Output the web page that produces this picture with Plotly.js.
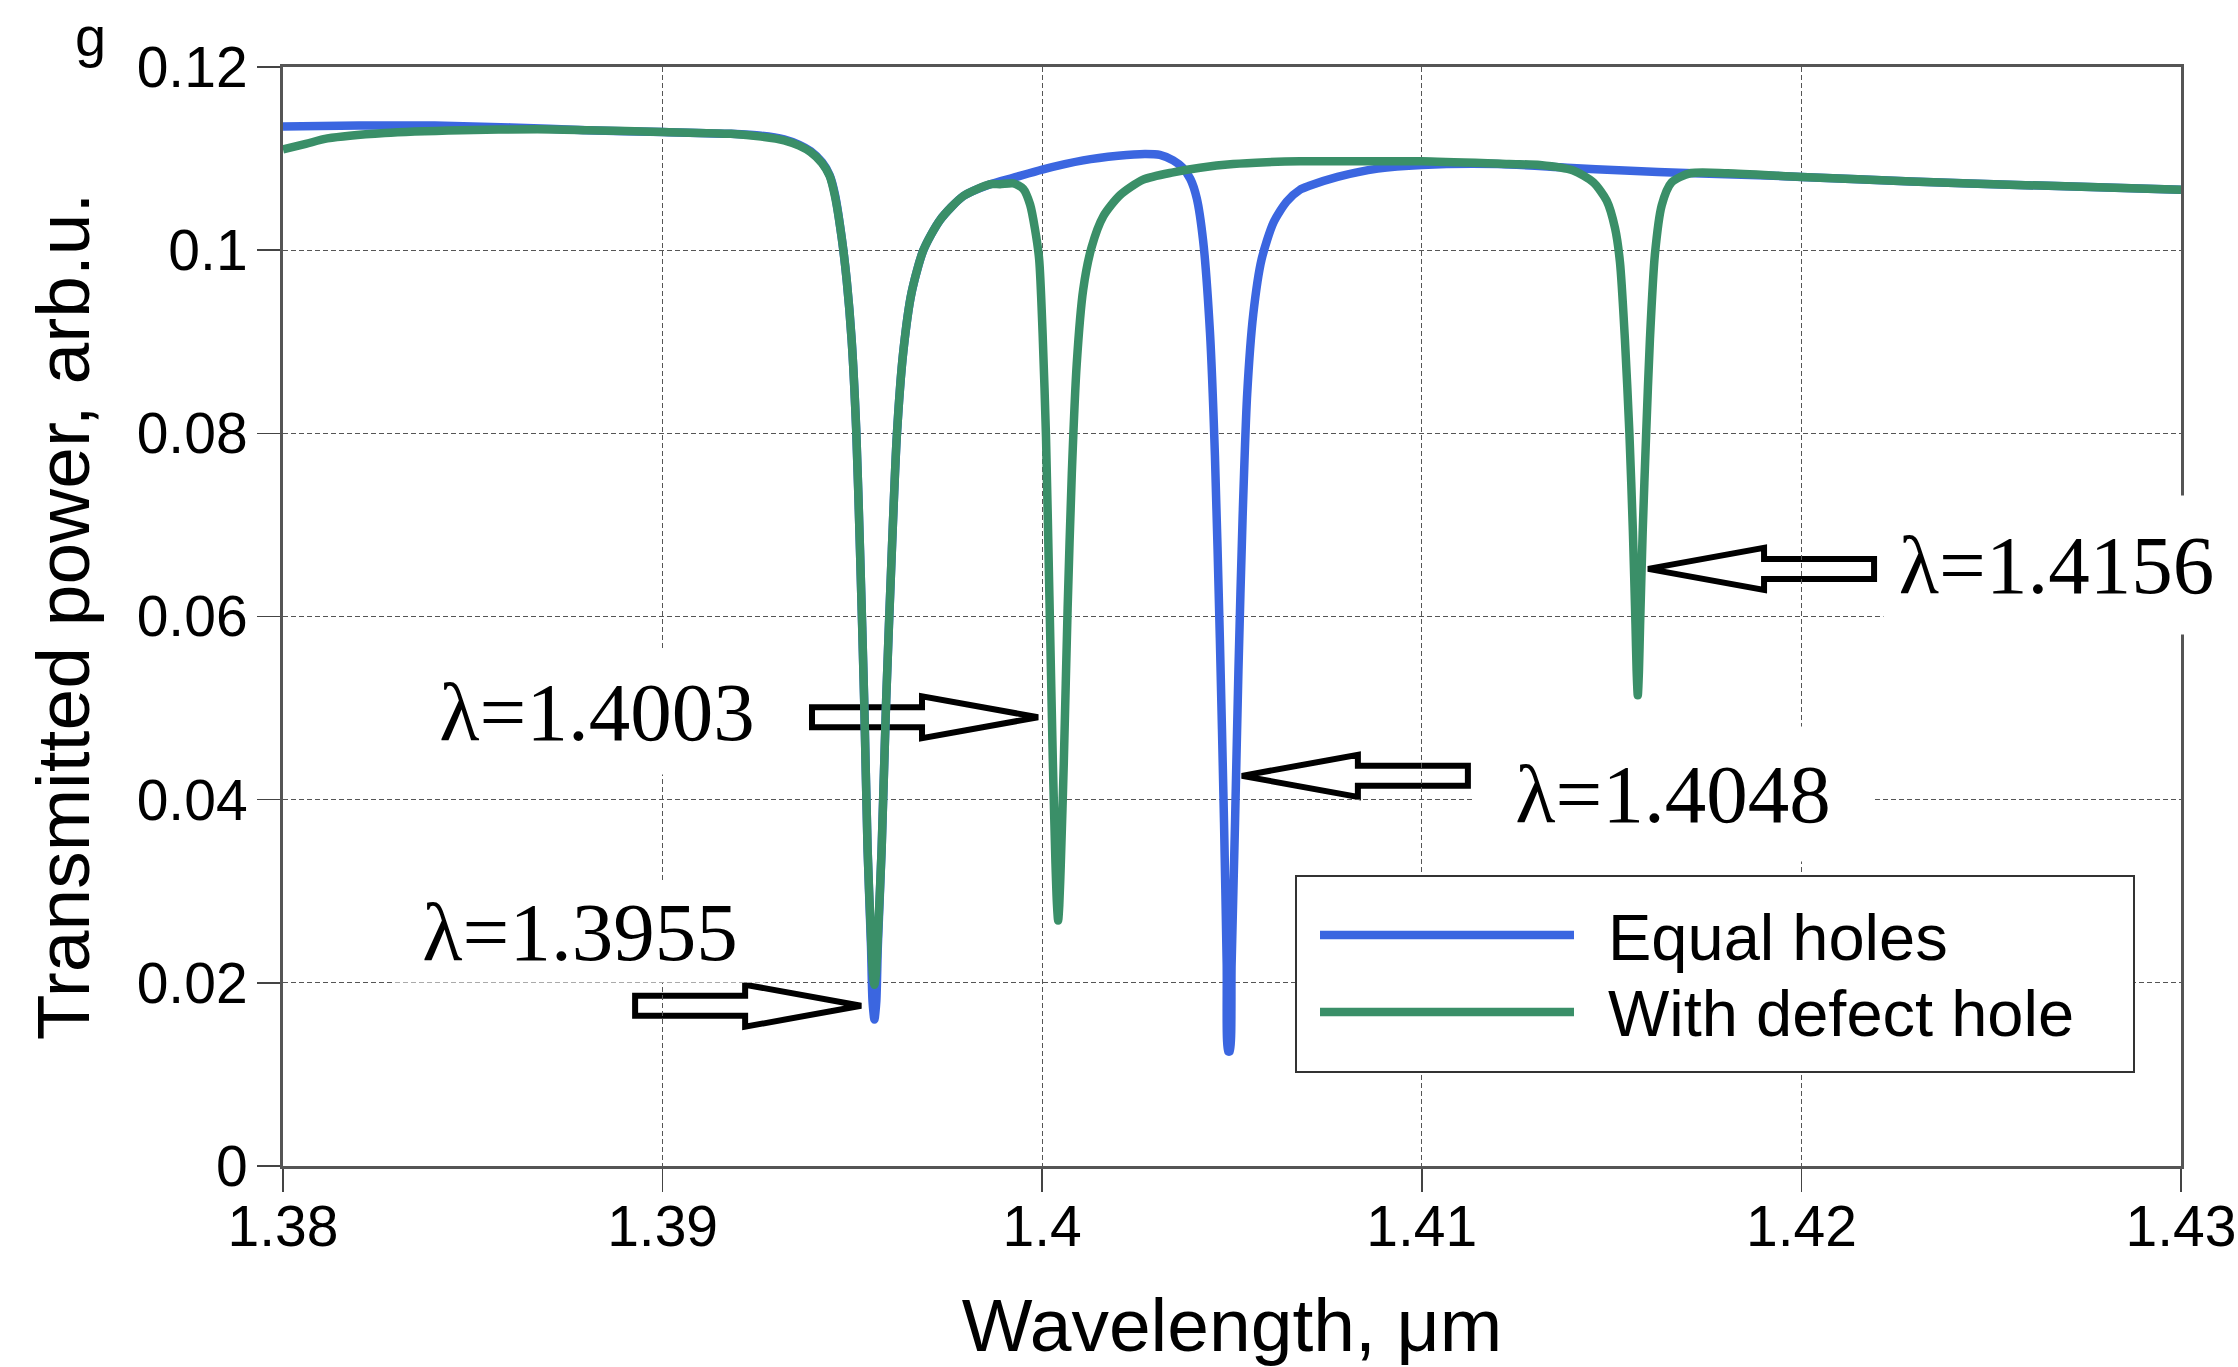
<!DOCTYPE html>
<html>
<head>
<meta charset="utf-8">
<script src="https://cdn.plot.ly/plotly-3.0.1.min.js"></script>
<style>
html,body{margin:0;padding:0;background:#ffffff;}
#chart{width:2238px;height:1367px;}
</style>
</head>
<body>
<div id="chart"></div>
<script>
// ---------------- DATA ----------------
const seriesNames = ['Equal holes', 'With defect hole'];

const wavelengthEqual = [
  1.3800, 1.3820, 1.3840, 1.3860, 1.3880, 1.3900, 1.3918, 1.3926, 1.3932, 1.3936,
  1.3939, 1.3942, 1.3944, 1.39454, 1.39472, 1.39485, 1.39498, 1.3951, 1.3952, 1.39531, 1.3954,
  1.39549, 1.39553, 1.39558, 1.39563, 1.39567, 1.39577, 1.39589, 1.39604, 1.39617, 1.39634,
  1.39656, 1.39687, 1.39731, 1.39792, 1.39863, 1.39923, 1.4000, 1.40108, 1.4020, 1.4027,
  1.4031, 1.40345, 1.4037, 1.4039, 1.40407, 1.40424, 1.40442, 1.40455, 1.40468, 1.40479,
  1.40486, 1.40490, 1.40494, 1.40499, 1.40508, 1.40517, 1.40528, 1.4054, 1.40556, 1.40578,
  1.40609, 1.40644, 1.40679, 1.40702, 1.40778, 1.40884, 1.4100, 1.4120, 1.41383, 1.41534,
  1.41715, 1.4180, 1.4200, 1.4229, 1.4259, 1.4300
];
const powerEqual = [
  0.1135, 0.1136, 0.1136, 0.1134, 0.1131, 0.1129, 0.1127, 0.1125, 0.1121, 0.1115,
  0.1108, 0.1096, 0.1082, 0.1061, 0.1013, 0.0967, 0.0902, 0.0804, 0.0673, 0.0509, 0.0346,
  0.0240, 0.0180, 0.0160, 0.0180, 0.0240, 0.0346, 0.0509, 0.0673, 0.0797, 0.0889,
  0.0954, 0.1000, 0.1033, 0.1059, 0.1072, 0.1079, 0.1088, 0.1098, 0.1103, 0.1105,
  0.1104, 0.1098, 0.1090, 0.1078, 0.1057, 0.1010, 0.0910, 0.0776, 0.0576, 0.0375,
  0.0221, 0.0125, 0.0125, 0.0221, 0.0375, 0.0542, 0.0709, 0.0843, 0.0930, 0.0990,
  0.1030, 0.1053, 0.1066, 0.1070, 0.1080, 0.1089, 0.1093, 0.1094, 0.1090, 0.1087,
  0.1084, 0.1083, 0.1080, 0.1075, 0.1071, 0.1066
];

const wavelengthDefect = [
  1.3800, 1.3806, 1.38117, 1.38268, 1.3847, 1.3867, 1.3880, 1.3900, 1.3918, 1.3926,
  1.3932, 1.3936, 1.3939, 1.3942, 1.3944, 1.39454, 1.39472, 1.39485, 1.39498, 1.3951, 1.3952,
  1.39531, 1.3954, 1.39549, 1.39554, 1.39558, 1.39562, 1.39567, 1.39577, 1.39589, 1.39604,
  1.39617, 1.39634, 1.39656, 1.39687, 1.39731, 1.39792, 1.39863, 1.39889, 1.39924, 1.3995,
  1.39968, 1.39981, 1.39992, 1.40001, 1.4001, 1.40019, 1.40028, 1.40035, 1.40039, 1.40042,
  1.40045, 1.40049, 1.40057, 1.40067, 1.40078, 1.40091, 1.40108, 1.4013, 1.40161, 1.40205,
  1.40266, 1.40345, 1.40416, 1.40503, 1.40591, 1.40679, 1.4080, 1.4100, 1.4123, 1.41311,
  1.41399, 1.41452, 1.41487, 1.41509, 1.41522, 1.41535, 1.41547, 1.41556, 1.41563, 1.41566,
  1.41569, 1.41572, 1.41575, 1.41582, 1.41591, 1.41601, 1.41614, 1.41632, 1.41658, 1.41707,
  1.41806, 1.4200, 1.4229, 1.4259, 1.4300
];
const powerDefect = [
  0.1110, 0.1116, 0.1122, 0.1128, 0.1131, 0.1132, 0.1131, 0.1129, 0.1127, 0.1124,
  0.1120, 0.1114, 0.1107, 0.1095, 0.1081, 0.1059, 0.1013, 0.0967, 0.0902, 0.0804, 0.0673,
  0.0509, 0.0346, 0.0250, 0.0210, 0.0198, 0.0210, 0.0250, 0.0346, 0.0509, 0.0673,
  0.0797, 0.0889, 0.0954, 0.1000, 0.1033, 0.1059, 0.1072, 0.1072, 0.1073, 0.1067,
  0.1050, 0.1023, 0.0990, 0.0910, 0.0796, 0.0622, 0.0442, 0.0330, 0.0285, 0.0268,
  0.0285, 0.0330, 0.0442, 0.0609, 0.0756, 0.0876, 0.0957, 0.1003, 0.1037, 0.1060,
  0.1077, 0.1085, 0.1090, 0.1094, 0.1096, 0.1097, 0.1097, 0.1097, 0.1094, 0.1093,
  0.1087, 0.1074, 0.1054, 0.1024, 0.0987, 0.0903, 0.0799, 0.0694, 0.0590, 0.0540,
  0.0514, 0.0540, 0.0590, 0.0694, 0.0799, 0.0903, 0.0995, 0.1049, 0.1074, 0.1084,
  0.1084, 0.1080, 0.1075, 0.1071, 0.1066
];

const xTickValues = [1.38, 1.39, 1.40, 1.41, 1.42, 1.43];
const xTickLabels = ['1.38', '1.39', '1.4', '1.41', '1.42', '1.43'];
const yTickValues = [0, 0.02, 0.04, 0.06, 0.08, 0.10, 0.12];
const yTickLabels = ['0', '0.02', '0.04', '0.06', '0.08', '0.1', '0.12'];

const resonanceLabels = ['λ=1.3955', 'λ=1.4003', 'λ=1.4048', 'λ=1.4156'];

// ---------------- STYLE / LAYOUT ----------------
const W = 2238, H = 1367;
const M = {l: 283, r: 57, t: 67, b: 201};
const plotW = W - M.l - M.r, plotH = H - M.t - M.b;
const xRange = [1.38, 1.43], yRange = [0, 0.12];
const pxX = (xRange[1] - xRange[0]) / plotW;
const pxY = (yRange[1] - yRange[0]) / plotH;

const colors = ['#3b66e0', '#3a8f68'];
const sansFont = 'Liberation Sans, Arial, sans-serif';
const narrowFont = 'Liberation Sans Narrow, Arial Narrow, Liberation Sans, sans-serif';
const serifFont = 'Liberation Serif, Times New Roman, serif';

// label placements (text centre in data units) and the arrow tip for each
const labelPlacement = [
  {x: 1.387824, y: 0.0256, w: 370, h: 100, tip: [1.39523, 0.0175], dir: 1},
  {x: 1.388272, y: 0.0496, w: 370, h: 125, tip: [1.39989, 0.0490], dir: 1},
  {x: 1.416617, y: 0.0406, w: 400, h: 134, tip: [1.40526, 0.0426], dir: -1},
  {x: 1.426707, y: 0.0656, w: 345, h: 138, tip: [1.41596, 0.0652], dir: -1}
];

function arrowPath(tx, ty, dir) {
  const L = 226, Hd = 116, s = 10, h = 21;
  const pts = [[0, 0], [-Hd, h], [-Hd, s], [-L, s], [-L, -s], [-Hd, -s], [-Hd, -h]];
  return 'M' + pts.map(p => (tx + dir * p[0] * pxX).toFixed(6) + ',' + (ty + p[1] * pxY).toFixed(6)).join('L') + 'Z';
}

const traces = [
  {x: wavelengthEqual, y: powerEqual, name: seriesNames[0], type: 'scatter', mode: 'lines',
   line: {color: colors[0], width: 8.5, shape: 'spline', smoothing: 0.7}, hoverinfo: 'skip'},
  {x: wavelengthDefect, y: powerDefect, name: seriesNames[1], type: 'scatter', mode: 'lines',
   line: {color: colors[1], width: 8.5, shape: 'spline', smoothing: 0.7}, hoverinfo: 'skip'}
];

const shapes = [];
const annotations = [];

labelPlacement.forEach((p, i) => {
  shapes.push({type: 'path', xref: 'x', yref: 'y', layer: 'below',
    path: arrowPath(p.tip[0], p.tip[1], p.dir),
    fillcolor: '#ffffff', line: {color: '#000000', width: 6}});
  annotations.push({x: p.x, y: p.y, xref: 'x', yref: 'y', showarrow: false,
    text: resonanceLabels[i], xanchor: 'center', yanchor: 'middle',
    width: p.w, height: p.h, bgcolor: '#ffffff', borderpad: 0,
    font: {family: serifFont, size: 83, color: '#000000'}});
});

// custom legend (long line samples like the original)
const toPX = px => (px - M.l) / plotW;
const toPY = py => (H - M.b - py) / plotH;
shapes.push({type: 'rect', xref: 'paper', yref: 'paper', layer: 'above',
  x0: toPX(1296), x1: toPX(2134), y0: toPY(1072), y1: toPY(876),
  fillcolor: '#ffffff', line: {color: '#333333', width: 2}});
const legendRows = [935, 1012];
seriesNames.forEach((n, i) => {
  shapes.push({type: 'line', xref: 'paper', yref: 'paper', layer: 'above',
    x0: toPX(1320), x1: toPX(1574), y0: toPY(legendRows[i]), y1: toPY(legendRows[i]),
    line: {color: colors[i], width: 8.5}});
  annotations.push({xref: 'paper', yref: 'paper', x: toPX(1606), y: toPY(legendRows[i] + 2),
    xanchor: 'left', yanchor: 'middle', showarrow: false, text: n,
    font: {family: sansFont, size: 65, color: '#000000'}});
});

// panel letter at the top-left corner
annotations.push({xref: 'paper', yref: 'paper', x: toPX(90), y: toPY(3), xanchor: 'center',
  yanchor: 'top', showarrow: false, text: 'g',
  font: {family: sansFont, size: 56, color: '#000000'}});

const axisCommon = {
  showgrid: true, gridcolor: '#555555', griddash: '5px,3px', gridwidth: 1.2,
  showline: true, linecolor: '#555555', linewidth: 3, mirror: true,
  ticks: 'outside', ticklen: 23, tickwidth: 1.5, tickcolor: '#444444',
  zeroline: false, automargin: false, ticklabeloverflow: 'allow',
  tickfont: {family: narrowFont, size: 57, color: '#000000'}
};

const layout = {
  width: W, height: H,
  margin: {l: M.l, r: M.r, t: M.t, b: M.b, pad: 0},
  paper_bgcolor: '#ffffff', plot_bgcolor: '#ffffff',
  showlegend: false,
  font: {family: sansFont, color: '#000000'},
  xaxis: Object.assign({}, axisCommon, {
    range: xRange, tickmode: 'array', tickvals: xTickValues, ticktext: xTickLabels,
    ticklabelstandoff: -14,
    title: {text: 'Wavelength, μm', font: {family: sansFont, size: 75, color: '#000000'}, standoff: 46}
  }),
  yaxis: Object.assign({}, axisCommon, {
    range: yRange, tickmode: 'array', tickvals: yTickValues, ticktext: yTickLabels,
    ticklabelstandoff: -2,
    title: {text: 'Transmitted power, arb.u.', font: {family: sansFont, size: 75, color: '#000000'}, standoff: 23}
  }),
  shapes: shapes,
  annotations: annotations
};

Plotly.newPlot('chart', traces, layout, {staticPlot: true, displayModeBar: false});
</script>
</body>
</html>
